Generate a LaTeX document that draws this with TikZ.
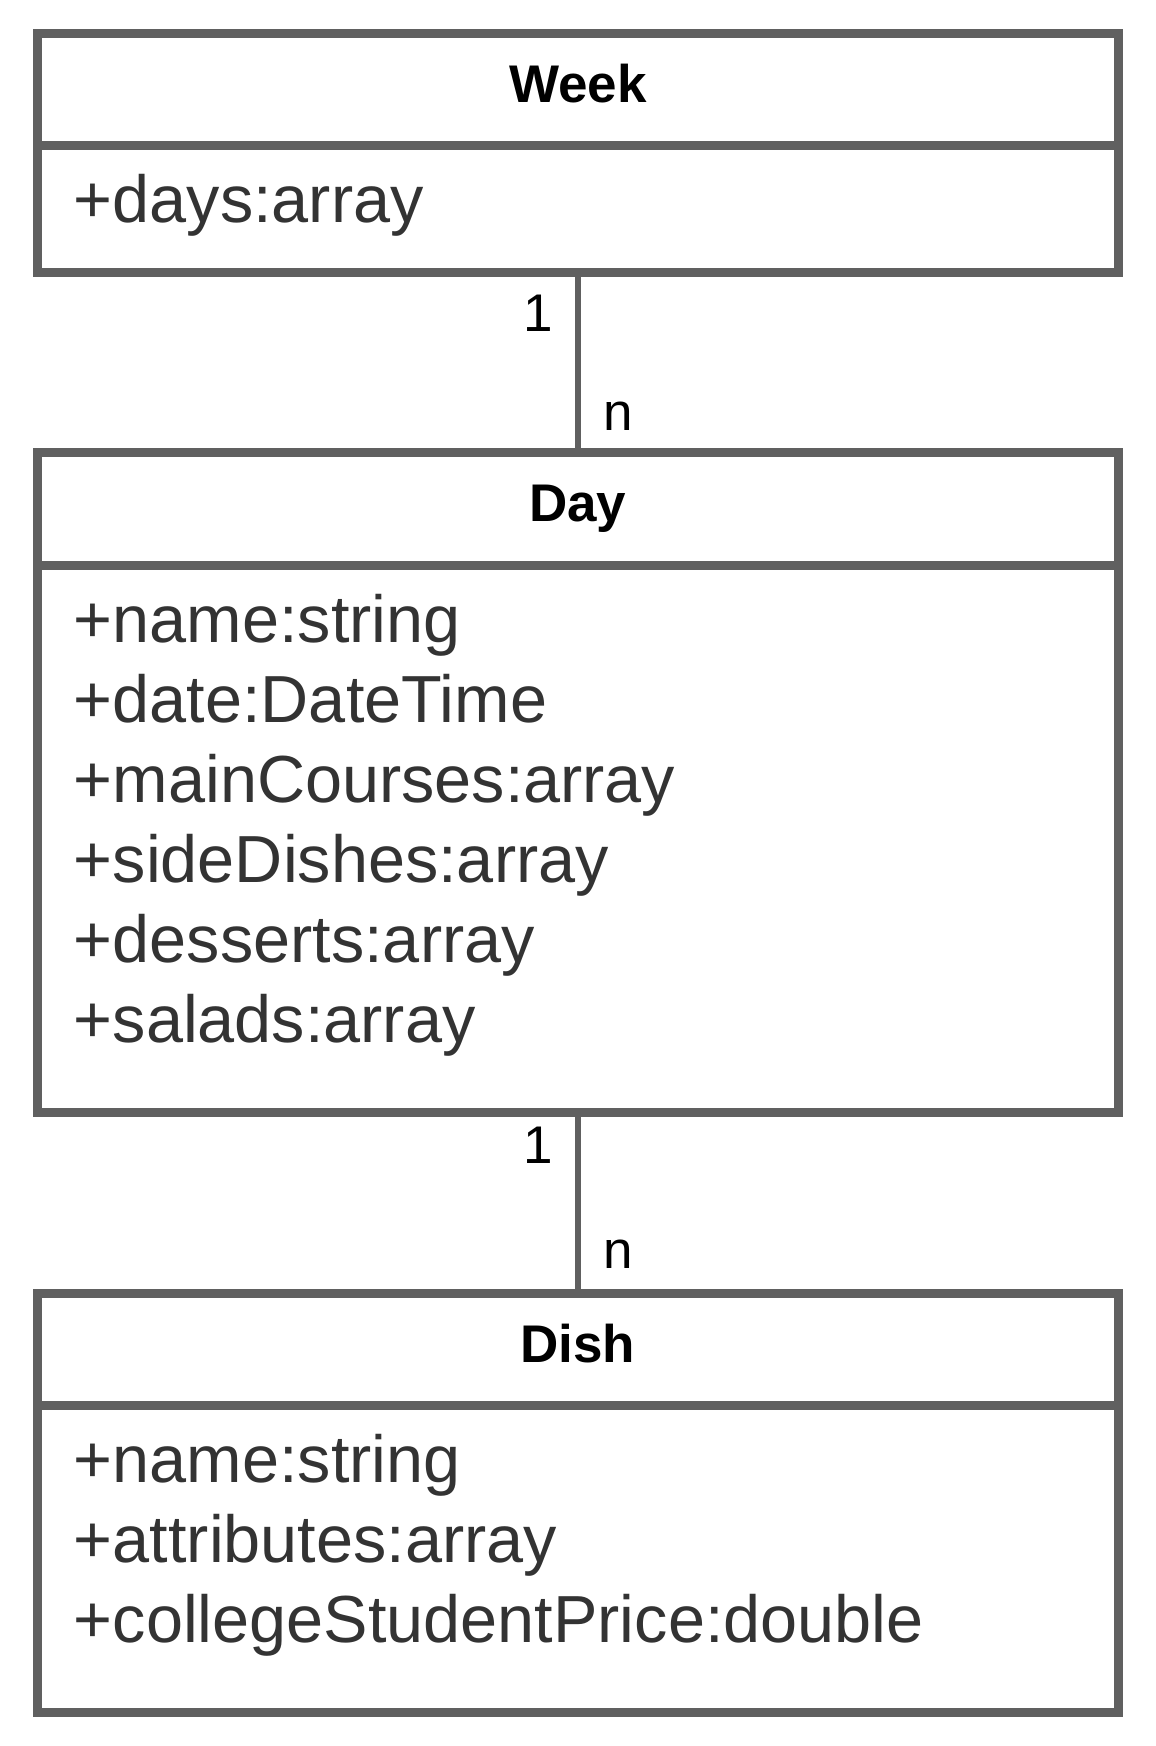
\documentclass[tikz,border=0pt]{standalone}
\usepackage{fontspec}
\setmainfont{Liberation Sans}
\usetikzlibrary{positioning, calc}
\definecolor{umlline}{RGB}{96,96,96}
\definecolor{umltext}{RGB}{51,51,51}

\begin{document}
\begin{tikzpicture}[x=0.5pt, y=-0.5pt,
    head/.style={draw=umlline, line width=4.5pt, outer sep=0pt, inner sep=0pt, minimum width=540.25pt, minimum height=56.25pt, text height=34.5pt, text depth=21.75pt, font=\fontsize{26.5}{32}\selectfont\bfseries},
    body/.style={draw=umlline, line width=4.5pt, outer sep=0pt, inner sep=0pt, minimum width=540.25pt},
    attr/.style={anchor=base west, inner sep=0pt, text=umltext, font=\fontsize{33.3}{40}\selectfont},
    mult/.style={inner sep=0pt, font=\fontsize{26.5}{32}\selectfont},
    assoc/.style={draw=umlline, line width=3pt}
]
    \useasboundingbox (0,0) rectangle (1156,1746);

    % classes
    \node[head, anchor=north] (weekhead) at (577.75,33) {Week};
    \node[body, minimum height=63.5pt, below=0pt of weekhead] (week) {};
    \node[head, below=90pt of week] (dayhead) {Day};
    \node[body, minimum height=273.5pt, below=0pt of dayhead] (day) {};
    \node[head, below=90.5pt of day] (dishhead) {Dish};
    \node[body, minimum height=153.25pt, below=0pt of dishhead] (dish) {};

    % attributes
    \node[attr] (weekattr1) at ($(week.north west)+(36,77)$) {+days:array};
    \foreach \t [count=\i] in {+name:string, +date:DateTime, +mainCourses:array, +sideDishes:array, +desserts:array, +salads:array}
        \node[attr] (dayattr\i) at ($(day.north west)+(36,{77+80*(\i-1)})$) {\t};
    \foreach \t [count=\i] in {+name:string, +attributes:array, +collegeStudentPrice:double}
        \node[attr] (dishattr\i) at ($(dish.north west)+(36,{77+80*(\i-1)})$) {\t};

    % associations
    \draw[assoc] (week.south) -- node[mult, pos=0.325, anchor=base east, xshift=-10.75pt] (m1) {1}
        node[mult, pos=0.875, anchor=base west, xshift=11.4pt] (m2) {n} (dayhead.north);
    \draw[assoc] (day.south) -- node[mult, pos=0.282, anchor=base east, xshift=-10.75pt] (m3) {1}
        node[mult, pos=0.867, anchor=base west, xshift=11.4pt] (m4) {n} (dishhead.north);
\end{tikzpicture}
\end{document}
